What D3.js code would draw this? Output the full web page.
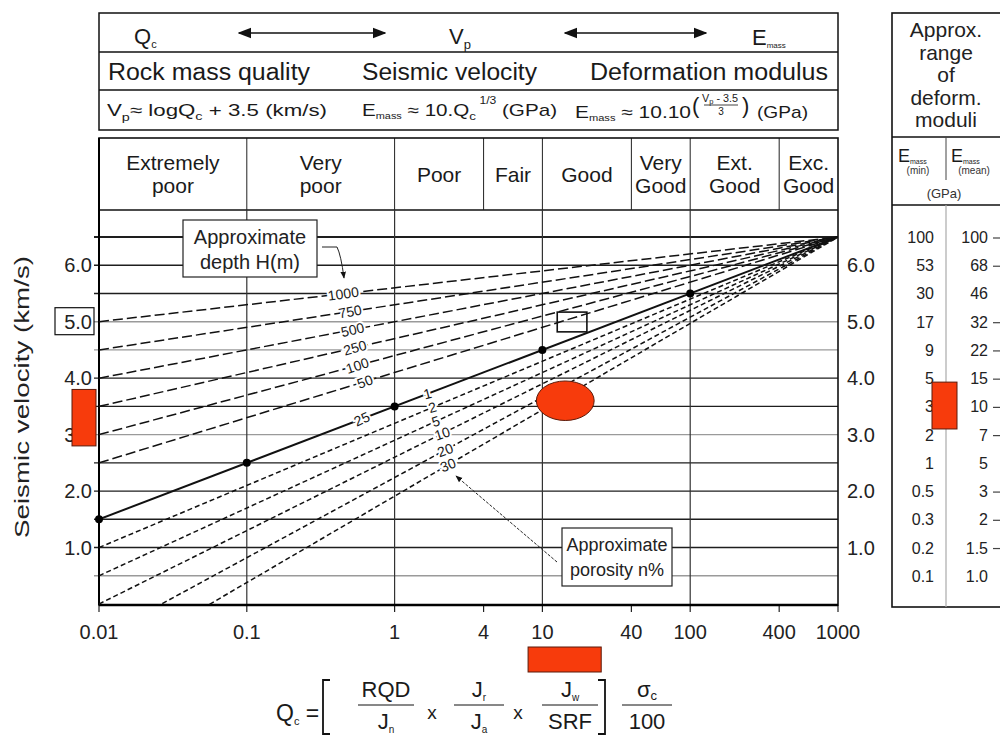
<!DOCTYPE html>
<html>
<head>
<meta charset="utf-8">
<script src="https://cdn.jsdelivr.net/npm/d3@7"></script>
<style>
  body { margin: 0; background: #fff; }
  svg { display: block; font-family: "Liberation Sans", Arial, sans-serif; }
</style>
</head>
<body>
<svg id="chart" width="1000" height="745"></svg>
<script>
// Qc axis ticks
var qTicks = [0.01, 0.1, 1, 4, 10, 40, 100, 400, 1000];
var qTickLabels = ["0.01", "0.1", "1", "4", "10", "40", "100", "400", "1000"];
var qGrid = [0.1, 1, 10, 100];

// Vp axis
var vpTicks = [1, 2, 3, 4, 5, 6];
var vpTickLabels = ["1.0", "2.0", "3.0", "4.0", "5.0", "6.0"];
var vpGrid = [0.5, 1, 1.5, 2, 2.5, 3, 3.5, 4, 4.5, 5, 5.5, 6, 6.5];
var vpGridLight = [0.5, 3, 4.5, 5];

// Rock mass classes
var classBounds = [0.01, 0.1, 1, 4, 10, 40, 100, 400, 1000];
var classNames = [["Extremely", "poor"], ["Very", "poor"], ["Poor"], ["Fair"], ["Good"],
                  ["Very", "Good"], ["Ext.", "Good"], ["Exc.", "Good"]];

// Depth lines (Vp at Qc = 0.01), all meet at Qc 1000 / Vp 6.5
var depthH = ["1000", "750", "500", "250", "100", "50", "25"];
var depthV0 = [5.0, 4.5, 4.0, 3.5, 3.0, 2.5, 1.5];
var depthLabelQ = [0.45, 0.50, 0.52, 0.54, 0.56, 0.63, 0.60];

// Porosity lines
var porosityN = ["1", "2", "5", "10", "20", "30"];
var porosityV0 = [1.5, 1.0, 0.5, 0.0, -0.6, -1.15];
var porosityLabelQ = [1.67, 1.8, 1.9, 2.1, 2.2, 2.3];

var convergeQ = 1000, convergeV = 6.5;

// Dots on the main line
var dotQ = [0.01, 0.1, 1, 10, 100];
var dotVp = [1.5, 2.5, 3.5, 4.5, 5.5];

// Deformation moduli table
var tableVp = [6.5, 6, 5.5, 5, 4.5, 4, 3.5, 3, 2.5, 2, 1.5, 1, 0.5];
var eMin = ["100", "53", "30", "17", "9", "5", "3", "2", "1", "0.5", "0.3", "0.2", "0.1"];
var eMean = ["100", "68", "46", "32", "22", "15", "10", "7", "5", "3", "2", "1.5", "1.0"];
var eMeanTick = [true, true, false, true, true, true, true, true, false, true, true, true, false];

// Site estimates (red marks)
var siteVp = [2.8, 3.8];
var siteQ = [8, 25];
var siteE = [3.1, 3.93];
var ellipseQ = [9.1, 22.4], ellipseVp = [3.25, 3.95];
var boxQ = [12.6, 20], boxVp = [4.82, 5.17];

var RED = "#f73b0c", RED_EDGE = "#5a1a0a";
var INK = "#1a1a1a";

var svg = d3.select("#chart");
var x = d3.scaleLog().domain([0.01, 1000]).range([99, 838]);
var y = d3.scaleLinear().domain([0, 6.5]).range([604, 237]);

var TOP = 138, CAT_BOTTOM = 210, BOTTOM = 605;

svg.append("defs").html(
  '<marker id="ah" viewBox="0 0 10 10" refX="9" refY="5" markerWidth="9" markerHeight="9" orient="auto-start-reverse">' +
  '<path d="M0,1 L10,5 L0,9 z" fill="#111"/></marker>' +
  '<marker id="ah2" viewBox="0 0 10 10" refX="9" refY="5" markerWidth="7" markerHeight="7" orient="auto">' +
  '<path d="M0,1 L10,5 L0,9 z" fill="#111"/></marker>' +
  '<clipPath id="plotclip"><rect x="99" y="230" width="739" height="375"/></clipPath>');

// text with sub/superscript parts
function subText(g, px, py, parts, size, anchor, len) {
  var t = g.append("text").attr("x", px).attr("y", py).attr("font-size", size).attr("fill", INK);
  if (anchor) t.attr("text-anchor", anchor);
  if (len) t.attr("textLength", len).attr("lengthAdjust", "spacingAndGlyphs");
  parts.forEach(function (p) {
    var ts = t.append("tspan").text(p.t);
    if (p.dy) ts.attr("dy", p.dy);
    if (p.s) ts.attr("font-size", p.s);
  });
  return t;
}

// ---------- top header box ----------
var head = svg.append("g");
head.append("rect").attr("x", 99).attr("y", 13).attr("width", 739).attr("height", 117)
  .attr("fill", "none").attr("stroke", "#111").attr("stroke-width", 1.5);
head.append("line").attr("x1", 99).attr("x2", 838).attr("y1", 52).attr("y2", 52).attr("stroke", "#111").attr("stroke-width", 1.5);
head.append("line").attr("x1", 99).attr("x2", 838).attr("y1", 90).attr("y2", 90).attr("stroke", "#111").attr("stroke-width", 1.5);

subText(head, 134, 44, [{t: "Q"}, {t: "c", s: 11, dy: 4}], 22);
subText(head, 449, 44, [{t: "V"}, {t: "p", s: 13, dy: 5}], 22);
subText(head, 752, 45, [{t: "E"}, {t: "mass", s: 8, dy: 3}], 22);
head.append("line").attr("x1", 239).attr("x2", 385).attr("y1", 33).attr("y2", 33)
  .attr("stroke", "#111").attr("stroke-width", 1.5)
  .attr("marker-start", "url(#ah)").attr("marker-end", "url(#ah)");
head.append("line").attr("x1", 565).attr("x2", 706).attr("y1", 33).attr("y2", 33)
  .attr("stroke", "#111").attr("stroke-width", 1.5)
  .attr("marker-start", "url(#ah)").attr("marker-end", "url(#ah)");

subText(head, 108, 80, [{t: "Rock mass quality"}], 23, null, 202);
subText(head, 362, 80, [{t: "Seismic velocity"}], 23, null, 175);
subText(head, 590, 80, [{t: "Deformation modulus"}], 23, null, 238);

// formula row
subText(head, 107, 116, [{t: "V"}, {t: "p", s: 11, dy: 5}, {t: "≈  logQ", dy: -5}, {t: "c", s: 11, dy: 4}, {t: " + 3.5 (km/s)", dy: -4}], 17, null, 220);
subText(head, 362, 116, [{t: "E"}, {t: "mass", s: 9, dy: 3}, {t: " ≈ 10.Q", dy: -3}, {t: "c", s: 11, dy: 4}, {t: " 1/3", s: 10, dy: -16}, {t: " (GPa)", dy: 12}], 17, null, 195);
subText(head, 575, 118, [{t: "E"}, {t: "mass", s: 9, dy: 3}, {t: " ≈ 10.10", dy: -3}], 17, null, 116);
head.append("text").attr("x", 692).attr("y", 113).attr("font-size", 22).attr("font-weight", 200).attr("fill", INK).text("(");
head.append("text").attr("x", 742).attr("y", 113).attr("font-size", 22).attr("font-weight", 200).attr("fill", INK).text(")");
subText(head, 720, 102, [{t: "V"}, {t: "p", s: 7, dy: 2}, {t: " - 3.5", dy: -2}], 10, "middle", 36);
head.append("line").attr("x1", 704).attr("x2", 738).attr("y1", 105).attr("y2", 105).attr("stroke", "#111").attr("stroke-width", 0.8);
head.append("text").attr("x", 721).attr("y", 115).attr("font-size", 10).attr("text-anchor", "middle").attr("fill", INK).text("3");
subText(head, 757, 118, [{t: "(GPa)"}], 17, null, 51);

// ---------- classes row ----------
var cat = svg.append("g");
cat.append("line").attr("x1", 99).attr("x2", 838).attr("y1", CAT_BOTTOM).attr("y2", CAT_BOTTOM).attr("stroke", "#111").attr("stroke-width", 1.5);
cat.selectAll(".sep").data(classBounds.slice(1, -1)).enter().append("line")
  .attr("x1", function (d) { return x(d); }).attr("x2", function (d) { return x(d); })
  .attr("y1", TOP).attr("y2", CAT_BOTTOM).attr("stroke", "#222").attr("stroke-width", 1);
classNames.forEach(function (lines, i) {
  var cx = (x(classBounds[i]) + x(classBounds[i + 1])) / 2;
  var t = cat.append("text").attr("x", cx).attr("text-anchor", "middle").attr("font-size", 21).attr("fill", INK);
  if (lines.length === 1) {
    t.attr("y", 182).text(lines[0]);
  } else {
    t.attr("y", 170);
    t.append("tspan").attr("x", cx).text(lines[0]);
    t.append("tspan").attr("x", cx).attr("dy", 23).text(lines[1]);
  }
});

// ---------- grid ----------
var grid = svg.append("g");
grid.selectAll(".hg").data(vpGrid).enter().append("line")
  .attr("x1", 94).attr("x2", 838)
  .attr("y1", function (d) { return y(d); }).attr("y2", function (d) { return y(d); })
  .attr("stroke", function (d) { return vpGridLight.indexOf(d) >= 0 ? "#9a9a9a" : "#1e1e1e"; })
  .attr("stroke-width", function (d) { return d === 6.5 ? 1.8 : 1.4; });
grid.selectAll(".vg").data(qGrid).enter().append("line")
  .attr("x1", function (d) { return x(d); }).attr("x2", function (d) { return x(d); })
  .attr("y1", CAT_BOTTOM).attr("y2", BOTTOM).attr("stroke", "#333").attr("stroke-width", 1.2);
grid.selectAll(".bt").data(qTicks).enter().append("line")
  .attr("x1", function (d) { return x(d); }).attr("x2", function (d) { return x(d); })
  .attr("y1", BOTTOM).attr("y2", BOTTOM + 7).attr("stroke", "#222").attr("stroke-width", 1.2);

// plot frame
svg.append("rect").attr("x", 99).attr("y", TOP).attr("width", 739).attr("height", BOTTOM - TOP)
  .attr("fill", "none").attr("stroke", "#111").attr("stroke-width", 1.6);
svg.append("line").attr("x1", 99).attr("x2", 838).attr("y1", BOTTOM).attr("y2", BOTTOM).attr("stroke", "#000").attr("stroke-width", 2.5);
svg.append("line").attr("x1", 99).attr("x2", 99).attr("y1", TOP).attr("y2", BOTTOM).attr("stroke", "#000").attr("stroke-width", 2);

// ---------- depth / porosity lines ----------
var lines = svg.append("g").attr("clip-path", "url(#plotclip)");
var labels = svg.append("g");

function drawFamily(names, v0s, labelQ, dash, tilt) {
  names.forEach(function (nm, i) {
    var x0 = x(0.01), y0 = y(v0s[i]), x1 = x(convergeQ), y1 = y(convergeV);
    var solid = (nm === "25" || nm === "1");
    if (!solid) {
      lines.append("line").attr("x1", x0).attr("y1", y0).attr("x2", x1).attr("y2", y1)
        .attr("stroke", "#111").attr("stroke-width", 1.5).attr("stroke-dasharray", dash);
    }
    var lx = x(labelQ[i]);
    var ly = y0 + (y1 - y0) * (lx - x0) / (x1 - x0);
    var ang = Math.atan2(y1 - y0, x1 - x0) * 180 / Math.PI * tilt;
    labels.append("text").attr("x", lx).attr("y", ly + 5)
      .attr("transform", "rotate(" + ang + "," + lx + "," + ly + ")")
      .attr("text-anchor", "middle").attr("font-size", 14).attr("fill", INK)
      .attr("stroke", "#fff").attr("stroke-width", 4).attr("paint-order", "stroke")
      .text(nm);
  });
}

lines.append("line").attr("x1", x(0.01)).attr("y1", y(depthV0[6])).attr("x2", x(convergeQ)).attr("y2", y(convergeV))
  .attr("stroke", "#111").attr("stroke-width", 2);
drawFamily(depthH, depthV0, depthLabelQ, "10,4", 1.2);
drawFamily(porosityN, porosityV0, porosityLabelQ, "5,3", 0.7);

svg.append("g").selectAll("circle").data(dotQ).enter().append("circle")
  .attr("cx", function (d) { return x(d); })
  .attr("cy", function (d, i) { return y(dotVp[i]); })
  .attr("r", 4).attr("fill", "#000");

// ---------- axes labels ----------
var ax = svg.append("g").attr("font-size", 20).attr("fill", "#222");
ax.selectAll(".lt").data(vpTicks).enter().append("text")
  .attr("x", 92).attr("y", function (d) { return y(d) + 7; }).attr("text-anchor", "end")
  .attr("fill", "#222").text(function (d, i) { return vpTickLabels[i]; });
ax.selectAll(".rt").data(vpTicks).enter().append("text")
  .attr("x", 847).attr("y", function (d) { return y(d) + 7; })
  .attr("fill", "#222").text(function (d, i) { return vpTickLabels[i]; });
ax.selectAll(".bt").data(qTicks).enter().append("text")
  .attr("x", function (d) { return x(d); }).attr("y", 639).attr("text-anchor", "middle")
  .attr("fill", "#222").text(function (d, i) { return qTickLabels[i]; });
svg.append("rect").attr("x", 55).attr("y", y(5) - 14).attr("width", 39).attr("height", 27)
  .attr("fill", "none").attr("stroke", "#111").attr("stroke-width", 1.2);
svg.append("text").attr("transform", "translate(29,397) rotate(-90)").attr("text-anchor", "middle")
  .attr("font-size", 21).attr("fill", "#222")
  .attr("textLength", 282).attr("lengthAdjust", "spacingAndGlyphs")
  .text("Seismic velocity (km/s)");

// ---------- right table ----------
var tb = svg.append("g");
tb.append("rect").attr("x", 892).attr("y", 13).attr("width", 130).attr("height", 594)
  .attr("fill", "none").attr("stroke", "#111").attr("stroke-width", 1.6);
tb.append("line").attr("x1", 892).attr("x2", 1000).attr("y1", 137).attr("y2", 137).attr("stroke", "#111").attr("stroke-width", 1.4);
tb.append("line").attr("x1", 892).attr("x2", 1000).attr("y1", 205).attr("y2", 205).attr("stroke", "#111").attr("stroke-width", 1.4);
tb.append("line").attr("x1", 946).attr("x2", 946).attr("y1", 137).attr("y2", 180).attr("stroke", "#444").attr("stroke-width", 1);
tb.append("line").attr("x1", 946).attr("x2", 946).attr("y1", 205).attr("y2", 607).attr("stroke", "#aaa").attr("stroke-width", 1.2);
["Approx.", "range", "of", "deform.", "moduli"].forEach(function (s, i) {
  tb.append("text").attr("x", 946).attr("y", 37 + i * 22.5).attr("text-anchor", "middle")
    .attr("font-size", 21).attr("fill", "#222").text(s);
});
subText(tb, 898, 162, [{t: "E"}, {t: "mass", s: 7, dy: 2}], 18);
subText(tb, 951, 162, [{t: "E"}, {t: "mass", s: 7, dy: 2}], 18);
tb.append("text").attr("x", 918).attr("y", 174).attr("text-anchor", "middle").attr("font-size", 10).attr("fill", "#333").text("(min)");
tb.append("text").attr("x", 974).attr("y", 174).attr("text-anchor", "middle").attr("font-size", 10).attr("fill", "#333").text("(mean)");
tb.append("text").attr("x", 944).attr("y", 198).attr("text-anchor", "middle").attr("font-size", 13).attr("fill", "#333").text("(GPa)");
tb.selectAll(".emin").data(tableVp).enter().append("text")
  .attr("x", 934).attr("y", function (d) { return y(d) + 6; }).attr("text-anchor", "end")
  .attr("font-size", 16).attr("fill", "#222").text(function (d, i) { return eMin[i]; });
tb.selectAll(".emean").data(tableVp).enter().append("text")
  .attr("x", 988).attr("y", function (d) { return y(d) + 6; }).attr("text-anchor", "end")
  .attr("font-size", 16).attr("fill", "#222").text(function (d, i) { return eMean[i]; });
tb.selectAll(".etick").data(tableVp.filter(function (d, i) { return eMeanTick[i]; })).enter().append("line")
  .attr("x1", 993).attr("x2", 1000).attr("y1", function (d) { return y(d) + 1; }).attr("y2", function (d) { return y(d) + 1; })
  .attr("stroke", "#444").attr("stroke-width", 1.2);

// ---------- red site estimates ----------
var red = svg.append("g");
red.append("rect").attr("x", 72).attr("width", 24)
  .attr("y", y(siteVp[1])).attr("height", y(siteVp[0]) - y(siteVp[1]))
  .attr("fill", RED).attr("stroke", RED_EDGE).attr("stroke-width", 1);
red.append("rect").attr("x", 932).attr("width", 25)
  .attr("y", y(siteE[1])).attr("height", y(siteE[0]) - y(siteE[1]))
  .attr("fill", RED).attr("stroke", RED_EDGE).attr("stroke-width", 1);
red.append("rect").attr("x", x(siteQ[0])).attr("width", x(siteQ[1]) - x(siteQ[0]))
  .attr("y", 647).attr("height", 25)
  .attr("fill", RED).attr("stroke", RED_EDGE).attr("stroke-width", 1);
red.append("ellipse")
  .attr("cx", (x(ellipseQ[0]) + x(ellipseQ[1])) / 2).attr("rx", (x(ellipseQ[1]) - x(ellipseQ[0])) / 2)
  .attr("cy", (y(ellipseVp[0]) + y(ellipseVp[1])) / 2).attr("ry", (y(ellipseVp[0]) - y(ellipseVp[1])) / 2)
  .attr("fill", RED).attr("stroke", RED_EDGE).attr("stroke-width", 1);
svg.append("rect").attr("x", x(boxQ[0])).attr("width", x(boxQ[1]) - x(boxQ[0]))
  .attr("y", y(boxVp[1])).attr("height", y(boxVp[0]) - y(boxVp[1]))
  .attr("fill", "none").attr("stroke", "#111").attr("stroke-width", 1.6);

// ---------- annotations ----------
var ann = svg.append("g");
ann.append("rect").attr("x", 183).attr("y", 220).attr("width", 134).attr("height", 57)
  .attr("fill", "#fff").attr("stroke", "#222").attr("stroke-width", 1.2);
ann.append("text").attr("x", 250).attr("y", 244).attr("text-anchor", "middle").attr("font-size", 20).attr("fill", "#222").text("Approximate");
ann.append("text").attr("x", 250).attr("y", 269).attr("text-anchor", "middle").attr("font-size", 20).attr("fill", "#222").text("depth H(m)");
ann.append("path").attr("d", "M322,247 L337,247 Q341,255 344,278")
  .attr("fill", "none").attr("stroke", "#222").attr("stroke-width", 1).attr("marker-end", "url(#ah2)");

ann.append("rect").attr("x", 562).attr("y", 528).attr("width", 110).attr("height", 58)
  .attr("fill", "#fff").attr("stroke", "#222").attr("stroke-width", 1.2);
ann.append("text").attr("x", 617).attr("y", 551).attr("text-anchor", "middle").attr("font-size", 18).attr("fill", "#222").text("Approximate");
ann.append("text").attr("x", 617).attr("y", 576).attr("text-anchor", "middle").attr("font-size", 18).attr("fill", "#222").text("porosity n%");
ann.append("line").attr("x1", 557).attr("y1", 562).attr("x2", 456).attr("y2", 476)
  .attr("stroke", "#222").attr("stroke-width", 1).attr("stroke-dasharray", "3,1.5").attr("marker-end", "url(#ah2)");

// ---------- Qc formula ----------
var fm = svg.append("g").attr("fill", INK);
subText(fm, 276, 721, [{t: "Q"}, {t: "c", s: 11, dy: 4}, {t: " =", dy: -4}], 23);
fm.append("path").attr("d", "M330,680 L323,680 L323,734 L330,734").attr("fill", "none").attr("stroke", "#111").attr("stroke-width", 1.8);
fm.append("path").attr("d", "M598,680 L605,680 L605,734 L598,734").attr("fill", "none").attr("stroke", "#111").attr("stroke-width", 1.8);
function frac(cx, w, num, den) {
  subText(fm, cx, 697, num, 22, "middle");
  fm.append("line").attr("x1", cx - w / 2).attr("x2", cx + w / 2).attr("y1", 705).attr("y2", 705).attr("stroke", "#111").attr("stroke-width", 1);
  subText(fm, cx, 729, den, 22, "middle");
}
frac(386, 56, [{t: "RQD"}], [{t: "J"}, {t: "n", s: 10, dy: 4}]);
fm.append("text").attr("x", 432).attr("y", 719).attr("text-anchor", "middle").attr("font-size", 19).text("x");
frac(479, 50, [{t: "J"}, {t: "r", s: 10, dy: 4}], [{t: "J"}, {t: "a", s: 10, dy: 4}]);
fm.append("text").attr("x", 518).attr("y", 719).attr("text-anchor", "middle").attr("font-size", 19).text("x");
frac(570, 56, [{t: "J"}, {t: "w", s: 10, dy: 4}], [{t: "SRF"}]);
frac(647, 50, [{t: "σ"}, {t: "c", s: 13, dy: 3}], [{t: "100"}]);
</script>
</body>
</html>
